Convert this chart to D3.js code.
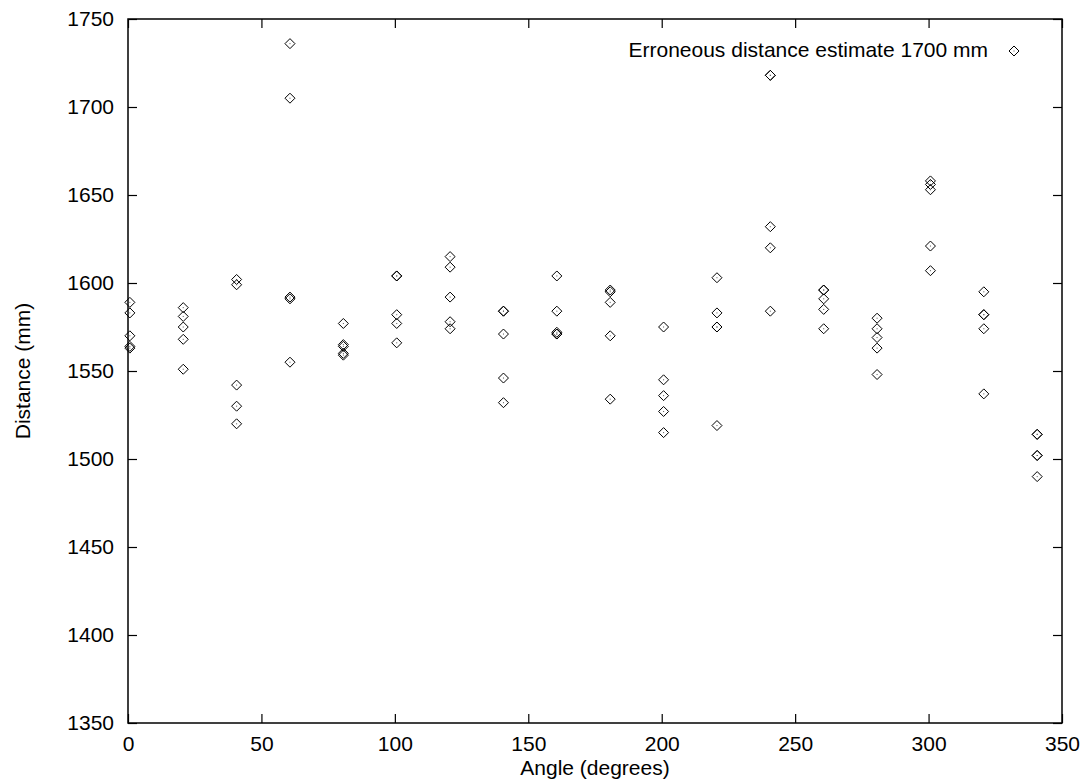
<!DOCTYPE html>
<html>
<head>
<meta charset="utf-8">
<script src="https://cdn.jsdelivr.net/npm/d3@7"></script>
<style>
  html, body { margin: 0; padding: 0; background: #fff; }
  svg { display: block; }
  text { font-family: "Liberation Sans", Arial, sans-serif; fill: #000; }
</style>
</head>
<body>
<svg id="chart" width="1087" height="782"></svg>
<script>
// ---- data ----
const angles = [0.7, 20.7, 40.7, 60.7, 80.7, 100.7, 120.7, 140.7, 160.7, 180.7,
                200.7, 220.7, 240.7, 260.7, 280.7, 300.7, 320.7, 340.7];
const distances = [
  [1589, 1583, 1570, 1564, 1563],
  [1586, 1581, 1575, 1568, 1551],
  [1602, 1599, 1542, 1530, 1520],
  [1736, 1705, 1592, 1591, 1555],
  [1577, 1565, 1564, 1560, 1559],
  [1604, 1604, 1582, 1577, 1566],
  [1615, 1609, 1592, 1578, 1574],
  [1584, 1584, 1571, 1546, 1532],
  [1604, 1584, 1572, 1571, 1571],
  [1596, 1595, 1589, 1570, 1534],
  [1575, 1545, 1536, 1527, 1515],
  [1603, 1583, 1575, 1575, 1519],
  [1718, 1718, 1632, 1620, 1584],
  [1596, 1596, 1591, 1585, 1574],
  [1580, 1574, 1569, 1563, 1548],
  [1658, 1656, 1653, 1621, 1607],
  [1595, 1582, 1582, 1574, 1537],
  [1514, 1514, 1502, 1502, 1490]
];
const xTicks = [0, 50, 100, 150, 200, 250, 300, 350];
const yTicks = [1350, 1400, 1450, 1500, 1550, 1600, 1650, 1700, 1750];
const seriesLabel = "Erroneous distance estimate 1700 mm";
const xTitle = "Angle (degrees)";
const yTitle = "Distance (mm)";

// ---- layout ----
const L = 128, R = 1062, T = 19, B = 723;
const FS = 21;
const svg = d3.select("#chart");
const x = d3.scaleLinear().domain([0, 350]).range([L, R]);
const y = d3.scaleLinear().domain([1350, 1750]).range([B, T]);

const points = [];
angles.forEach((a, i) => distances[i].forEach(d => points.push({a, d})));

const tickLen = 9;
const axisStyle = g => {
  g.select(".domain").remove();
  g.selectAll(".tick line").attr("stroke", "#000").attr("stroke-width", 1.2);
  g.selectAll(".tick text").attr("font-size", FS).attr("font-family", "Liberation Sans, Arial, sans-serif").attr("fill", "#000");
};

// bottom
svg.append("g").attr("transform", `translate(0,${B})`)
  .call(d3.axisBottom(x).tickValues(xTicks).tickFormat(d3.format("d")).tickSizeInner(-tickLen).tickSizeOuter(0).tickPadding(13))
  .call(axisStyle);
// top (mirror, no labels)
svg.append("g").attr("transform", `translate(0,${T})`)
  .call(d3.axisTop(x).tickValues(xTicks).tickFormat("").tickSizeInner(-tickLen).tickSizeOuter(0))
  .call(axisStyle);
// left
svg.append("g").attr("transform", `translate(${L},0)`)
  .call(d3.axisLeft(y).tickValues(yTicks).tickFormat(d3.format("d")).tickSizeInner(-tickLen).tickSizeOuter(0).tickPadding(14))
  .call(axisStyle);
// right (mirror)
svg.append("g").attr("transform", `translate(${R},0)`)
  .call(d3.axisRight(y).tickValues(yTicks).tickFormat("").tickSizeInner(-tickLen).tickSizeOuter(0))
  .call(axisStyle);

// border
svg.append("rect").attr("x", L).attr("y", T).attr("width", R - L).attr("height", B - T)
  .attr("fill", "none").attr("stroke", "#000").attr("stroke-width", 1.5);

// diamonds
const diamond = "M-5,0L0,-5L5,0L0,5Z";
const pg = svg.append("g");
const marks = pg.selectAll("g.pt").data(points).join("g").attr("class", "pt")
  .attr("transform", p => `translate(${x(p.a)},${y(p.d)})`);
marks.append("path").attr("d", diamond).attr("fill", "none").attr("stroke", "#000").attr("stroke-width", 1);
marks.append("rect").attr("x", -0.5).attr("y", -0.5).attr("width", 1).attr("height", 1).attr("fill", "#555");

// legend
svg.append("text").attr("x", 988).attr("y", 57).attr("text-anchor", "end").attr("font-size", FS).text(seriesLabel);
const lg = svg.append("g").attr("transform", "translate(1014,51)");
lg.append("path").attr("d", diamond).attr("fill", "none").attr("stroke", "#000").attr("stroke-width", 1);
lg.append("rect").attr("x", -0.5).attr("y", -0.5).attr("width", 1).attr("height", 1).attr("fill", "#555");

// titles
svg.append("text").attr("x", (L + R) / 2).attr("y", 775).attr("text-anchor", "middle").attr("font-size", FS).text(xTitle);
svg.append("text").attr("transform", `translate(30,${(T + B) / 2}) rotate(-90)`).attr("text-anchor", "middle").attr("font-size", FS).text(yTitle);
</script>
</body>
</html>
